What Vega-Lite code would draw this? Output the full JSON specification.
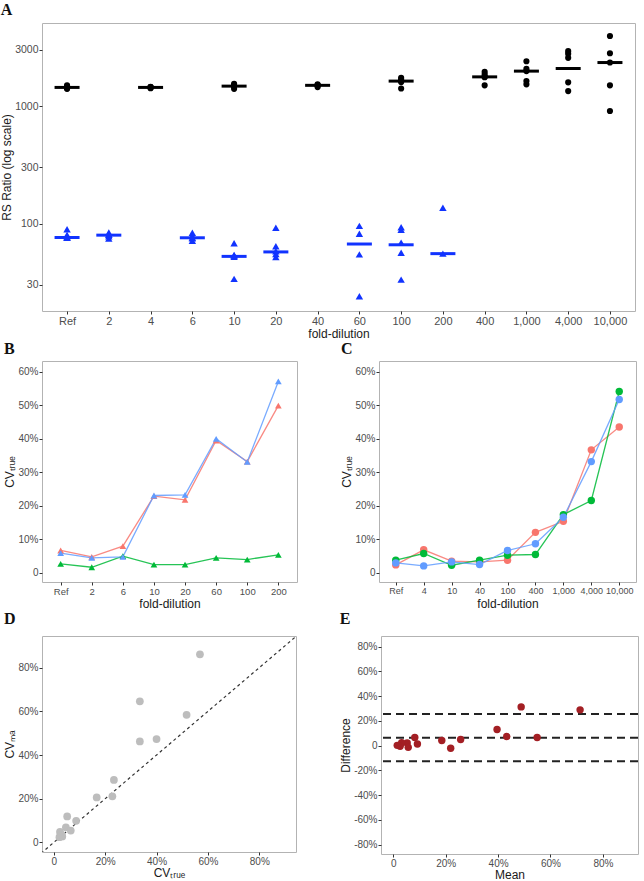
{
 "$schema": "https://vega.github.io/schema/vega-lite/v6.json",
 "background": "white",
 "padding": {"left": 0, "top": 1, "right": 2, "bottom": 0},
 "config": {
  "font": "Liberation Sans",
  "view": {"stroke": "#b3b3b3", "strokeWidth": 1},
  "axis": {"grid": false, "domain": false, "tickColor": "#333333", "tickSize": 3, "labelColor": "#4d4d4d", "labelFontSize": 10, "titleFontSize": 12, "titleFontWeight": "normal", "titleColor": "#1a1a1a", "labelPadding": 1, "titlePadding": 1},
  "title": {"font": "Liberation Serif", "fontSize": 16, "fontWeight": "bold", "anchor": "start", "frame": "bounds", "offset": 5, "color": "#111111"}
 },
 "datasets": {
  "a_pts": [
   {"fd":"Ref","g":"k","v":1500},{"fd":"Ref","g":"k","v":1440},{"fd":"Ref","g":"k","v":1400},{"fd":"Ref","g":"k","v":1420},{"fd":"Ref","g":"k","v":1460},
   {"fd":"4","g":"k","v":1460},{"fd":"4","g":"k","v":1440},{"fd":"4","g":"k","v":1420},{"fd":"4","g":"k","v":1450},{"fd":"4","g":"k","v":1430},
   {"fd":"10","g":"k","v":1545},{"fd":"10","g":"k","v":1480},{"fd":"10","g":"k","v":1470},{"fd":"10","g":"k","v":1400},{"fd":"10","g":"k","v":1500},
   {"fd":"40","g":"k","v":1530},{"fd":"40","g":"k","v":1500},{"fd":"40","g":"k","v":1490},{"fd":"40","g":"k","v":1450},{"fd":"40","g":"k","v":1510},
   {"fd":"100","g":"k","v":1740},{"fd":"100","g":"k","v":1680},{"fd":"100","g":"k","v":1630},{"fd":"100","g":"k","v":1600},{"fd":"100","g":"k","v":1410},
   {"fd":"400","g":"k","v":1950},{"fd":"400","g":"k","v":1855},{"fd":"400","g":"k","v":1771},{"fd":"400","g":"k","v":1760},{"fd":"400","g":"k","v":1500},
   {"fd":"1,000","g":"k","v":2405},{"fd":"1,000","g":"k","v":2070},{"fd":"1,000","g":"k","v":1982},{"fd":"1,000","g":"k","v":1630},{"fd":"1,000","g":"k","v":1530},
   {"fd":"4,000","g":"k","v":2930},{"fd":"4,000","g":"k","v":2780},{"fd":"4,000","g":"k","v":2570},{"fd":"4,000","g":"k","v":1590},{"fd":"4,000","g":"k","v":1340},
   {"fd":"10,000","g":"k","v":3945},{"fd":"10,000","g":"k","v":2812},{"fd":"10,000","g":"k","v":2345},{"fd":"10,000","g":"k","v":1500},{"fd":"10,000","g":"k","v":907},
   {"fd":"Ref","g":"b","v":89.4},{"fd":"Ref","g":"b","v":76},{"fd":"Ref","g":"b","v":75.6},{"fd":"Ref","g":"b","v":78},{"fd":"Ref","g":"b","v":80},
   {"fd":"2","g":"b","v":83.8},{"fd":"2","g":"b","v":80},{"fd":"2","g":"b","v":74.6},{"fd":"2","g":"b","v":78},{"fd":"2","g":"b","v":81},
   {"fd":"6","g":"b","v":83.4},{"fd":"6","g":"b","v":78.6},{"fd":"6","g":"b","v":71.4},{"fd":"6","g":"b","v":76},{"fd":"6","g":"b","v":75},
   {"fd":"10","g":"b","v":68},{"fd":"10","g":"b","v":53.5},{"fd":"10","g":"b","v":52},{"fd":"10","g":"b","v":33.8},{"fd":"10","g":"b","v":54},
   {"fd":"20","g":"b","v":92},{"fd":"20","g":"b","v":64},{"fd":"20","g":"b","v":58},{"fd":"20","g":"b","v":51.8},{"fd":"20","g":"b","v":55},
   {"fd":"60","g":"b","v":95.5},{"fd":"60","g":"b","v":81.7},{"fd":"60","g":"b","v":54.6},{"fd":"60","g":"b","v":24},
   {"fd":"100","g":"b","v":93},{"fd":"100","g":"b","v":88.4},{"fd":"100","g":"b","v":68.7},{"fd":"100","g":"b","v":56.4},{"fd":"100","g":"b","v":33.3},
   {"fd":"200","g":"b","v":136},{"fd":"200","g":"b","v":55.4}
  ],
  "a_med": [
   {"fd":"Ref","g":"k","v":1440},{"fd":"4","g":"k","v":1440},{"fd":"10","g":"k","v":1477},{"fd":"40","g":"k","v":1500},{"fd":"100","g":"k","v":1630},
   {"fd":"400","g":"k","v":1771},{"fd":"1,000","g":"k","v":1982},{"fd":"4,000","g":"k","v":2086},{"fd":"10,000","g":"k","v":2345},
   {"fd":"Ref","g":"b","v":76},{"fd":"2","g":"b","v":79.6},{"fd":"6","g":"b","v":75.6},{"fd":"10","g":"b","v":52.5},{"fd":"20","g":"b","v":57.3},
   {"fd":"60","g":"b","v":66.9},{"fd":"100","g":"b","v":65.9},{"fd":"200","g":"b","v":55.4}
  ],
  "b": [
   {"i":1,"fd":"Ref","s":"r","cv":0.067},{"i":2,"fd":"2","s":"r","cv":0.048},{"i":3,"fd":"6","s":"r","cv":0.080},{"i":4,"fd":"10","s":"r","cv":0.229},{"i":5,"fd":"20","s":"r","cv":0.218},{"i":6,"fd":"60","s":"r","cv":0.395},{"i":7,"fd":"100","s":"r","cv":0.332},{"i":8,"fd":"200","s":"r","cv":0.499},
   {"i":1,"fd":"Ref","s":"g","cv":0.027},{"i":2,"fd":"2","s":"g","cv":0.017},{"i":3,"fd":"6","s":"g","cv":0.050},{"i":4,"fd":"10","s":"g","cv":0.025},{"i":5,"fd":"20","s":"g","cv":0.025},{"i":6,"fd":"60","s":"g","cv":0.045},{"i":7,"fd":"100","s":"g","cv":0.040},{"i":8,"fd":"200","s":"g","cv":0.054},
   {"i":1,"fd":"Ref","s":"b","cv":0.059},{"i":2,"fd":"2","s":"b","cv":0.045},{"i":3,"fd":"6","s":"b","cv":0.048},{"i":4,"fd":"10","s":"b","cv":0.231},{"i":5,"fd":"20","s":"b","cv":0.233},{"i":6,"fd":"60","s":"b","cv":0.400},{"i":7,"fd":"100","s":"b","cv":0.331},{"i":8,"fd":"200","s":"b","cv":0.571}
  ],
  "c": [
   {"i":1,"fd":"Ref","s":"r","cv":0.024},{"i":2,"fd":"4","s":"r","cv":0.069},{"i":3,"fd":"10","s":"r","cv":0.035},{"i":4,"fd":"40","s":"r","cv":0.033},{"i":5,"fd":"100","s":"r","cv":0.038},{"i":6,"fd":"400","s":"r","cv":0.121},{"i":7,"fd":"1,000","s":"r","cv":0.154},{"i":8,"fd":"4,000","s":"r","cv":0.367},{"i":9,"fd":"10,000","s":"r","cv":0.435},
   {"i":1,"fd":"Ref","s":"g","cv":0.038},{"i":2,"fd":"4","s":"g","cv":0.058},{"i":3,"fd":"10","s":"g","cv":0.023},{"i":4,"fd":"40","s":"g","cv":0.038},{"i":5,"fd":"100","s":"g","cv":0.053},{"i":6,"fd":"400","s":"g","cv":0.055},{"i":7,"fd":"1,000","s":"g","cv":0.174},{"i":8,"fd":"4,000","s":"g","cv":0.216},{"i":9,"fd":"10,000","s":"g","cv":0.541},
   {"i":1,"fd":"Ref","s":"b","cv":0.030},{"i":2,"fd":"4","s":"b","cv":0.021},{"i":3,"fd":"10","s":"b","cv":0.033},{"i":4,"fd":"40","s":"b","cv":0.025},{"i":5,"fd":"100","s":"b","cv":0.067},{"i":6,"fd":"400","s":"b","cv":0.087},{"i":7,"fd":"1,000","s":"b","cv":0.166},{"i":8,"fd":"4,000","s":"b","cv":0.332},{"i":9,"fd":"10,000","s":"b","cv":0.517}
  ],
  "d": [
   {"t":0.569,"ma":0.861},{"t":0.335,"ma":0.646},{"t":0.517,"ma":0.584},{"t":0.335,"ma":0.462},{"t":0.400,"ma":0.473},{"t":0.234,"ma":0.286},{"t":0.167,"ma":0.206},{"t":0.228,"ma":0.211},
   {"t":0.052,"ma":0.119},{"t":0.087,"ma":0.099},{"t":0.047,"ma":0.069},{"t":0.024,"ma":0.048},{"t":0.066,"ma":0.054},{"t":0.033,"ma":0.027},{"t":0.022,"ma":0.024},{"t":0.030,"ma":0.035}
  ],
  "diag": [{"t":-0.05,"ma":-0.05,"t2":0.95,"ma2":0.95}],
  "e": [
   {"m":0.488,"d":0.313},{"m":0.713,"d":0.289},{"m":0.396,"d":0.130},{"m":0.433,"d":0.074},{"m":0.549,"d":0.066},{"m":0.257,"d":0.050},{"m":0.185,"d":0.042},{"m":0.219,"d":-0.021},
   {"m":0.082,"d":0.066},{"m":0.092,"d":0.013},{"m":0.053,"d":0.021},{"m":0.057,"d":-0.014},{"m":0.032,"d":0.024},{"m":0.026,"d":-0.006},{"m":0.015,"d":0.002}
  ],
  "ehl": [{"d":0.255},{"d":0.064},{"d":-0.127}]
 },
 "columns": 1,
 "spacing": 0,
 "concat": [
  {
   "title": {"text": "A", "offset": 5},
   "width": 593, "height": 288,
   "encoding": {
    "x": {"field":"fd","type":"nominal","scale":{"type":"point","padding":0.6,"domain":["Ref","2","4","6","10","20","40","60","100","200","400","1,000","4,000","10,000"]},"axis":{"title":"fold-dilution","labelAngle":0,"labelFontSize":11,"titlePadding":2}},
    "y": {"field":"v","type":"quantitative","scale":{"type":"log","domain":[18,5090],"nice":false},"axis":{"values":[30,100,300,1000,3000],"format":"d","title":"RS Ratio (log scale)","labelFontSize":10.5,"titleFontSize":12,"titlePadding":1}},
    "color": {"field":"g","type":"nominal","scale":{"domain":["k","b"],"range":["#000000","#1133ff"]},"legend":null}
   },
   "layer": [
    {"data":{"name":"a_pts"},"mark":{"type":"point","filled":true,"opacity":1},
     "encoding":{"shape":{"field":"g","type":"nominal","scale":{"domain":["k","b"],"range":["circle","triangle-up"]},"legend":null},
                 "size":{"field":"g","type":"nominal","scale":{"domain":["k","b"],"range":[38,55]},"legend":null}}},
    {"data":{"name":"a_med"},"mark":{"type":"tick","thickness":3,"size":25,"opacity":1}}
   ]
  },
  {
   "spacing": 42,
   "resolve": {"scale": {"x":"independent","y":"independent","color":"independent"}},
   "hconcat": [
    {
     "title": {"text": "B", "offset": 4}, "width": 255, "height": 221,
     "data": {"name":"b"},
     "encoding": {
      "x": {"field":"fd","type":"ordinal","scale":{"type":"point","padding":0.6,"domain":["Ref","2","6","10","20","60","100","200"]},"axis":{"title":"fold-dilution","labelAngle":0,"labelFontSize":9.5,"titlePadding":3}},
      "y": {"field":"cv","type":"quantitative","scale":{"domain":[-0.027,0.632],"nice":false,"zero":false},"axis":{"values":[0,0.1,0.2,0.3,0.4,0.5,0.6],"labelExpr":"datum.value == 0 ? '0' : (datum.value < 0 ? '-' : '') + format(abs(datum.value), '.0%')","title":"CVₜᵣᵤₑ"}},
      "color": {"field":"s","type":"nominal","scale":{"domain":["r","g","b"],"range":["#F8766D","#00BA38","#619CFF"]},"legend":null},
      "order": {"field":"i","type":"quantitative"}
     },
     "layer": [
      {"mark":{"type":"line","strokeWidth":1.3,"opacity":0.85}},
      {"mark":{"type":"point","shape":"triangle-up","filled":true,"size":45,"opacity":1}}
     ]
    },
    {
     "title": {"text": "C", "offset": 4}, "width": 257, "height": 221,
     "data": {"name":"c"},
     "encoding": {
      "x": {"field":"fd","type":"ordinal","scale":{"type":"point","padding":0.6,"domain":["Ref","4","10","40","100","400","1,000","4,000","10,000"]},"axis":{"title":"fold-dilution","labelAngle":0,"labelFontSize":9,"titlePadding":3}},
      "y": {"field":"cv","type":"quantitative","scale":{"domain":[-0.027,0.632],"nice":false,"zero":false},"axis":{"values":[0,0.1,0.2,0.3,0.4,0.5,0.6],"labelExpr":"datum.value == 0 ? '0' : (datum.value < 0 ? '-' : '') + format(abs(datum.value), '.0%')","title":"CVₜᵣᵤₑ"}},
      "color": {"field":"s","type":"nominal","scale":{"domain":["r","g","b"],"range":["#F8766D","#00BA38","#619CFF"]},"legend":null},
      "order": {"field":"i","type":"quantitative"}
     },
     "layer": [
      {"mark":{"type":"line","strokeWidth":1.3,"opacity":0.85}},
      {"mark":{"type":"circle","size":55,"opacity":1}}
     ]
    }
   ]
  },
  {
   "spacing": 42,
   "resolve": {"scale": {"x":"independent","y":"independent"}},
   "hconcat": [
    {
     "title": {"text": "D", "offset": 9}, "width": 254, "height": 216,
     "encoding": {
      "x": {"field":"t","type":"quantitative","scale":{"domain":[-0.046,0.943],"nice":false,"zero":false},"axis":{"values":[0,0.2,0.4,0.6,0.8],"labelExpr":"datum.value == 0 ? '0' : format(datum.value, '.0%')","title":"CVₜᵣᵤₑ","titlePadding":1}},
      "y": {"field":"ma","type":"quantitative","scale":{"domain":[-0.044,0.945],"nice":false,"zero":false},"axis":{"values":[0,0.2,0.4,0.6,0.8],"labelExpr":"datum.value == 0 ? '0' : format(datum.value, '.0%')","title":"CVₘₐ"}}
     },
     "layer": [
      {"data":{"name":"diag"},"mark":{"type":"rule","strokeDash":[3,3],"color":"#333333","strokeWidth":1.2,"clip":true},
       "encoding":{"x2":{"field":"t2"},"y2":{"field":"ma2"}}},
      {"data":{"name":"d"},"mark":{"type":"circle","size":60,"color":"#bdbdbd","opacity":1}}
     ]
    },
    {
     "title": {"text": "E", "offset": 9}, "width": 257, "height": 218,
     "encoding": {
      "y": {"field":"d","type":"quantitative","scale":{"domain":[-0.876,0.886],"nice":false,"zero":false},"axis":{"values":[-0.8,-0.6,-0.4,-0.2,0,0.2,0.4,0.6,0.8],"labelExpr":"datum.value == 0 ? '0' : (datum.value < 0 ? '-' : '') + format(abs(datum.value), '.0%')","title":"Difference"}}
     },
     "layer": [
      {"data":{"name":"ehl"},"mark":{"type":"rule","strokeDash":[8,5],"color":"#222222","strokeWidth":2}},
      {"data":{"name":"e"},"mark":{"type":"circle","size":55,"color":"#a31f24","opacity":1},
       "encoding":{"x":{"field":"m","type":"quantitative","scale":{"domain":[-0.047,0.934],"nice":false,"zero":false},"axis":{"values":[0,0.2,0.4,0.6,0.8],"labelExpr":"datum.value == 0 ? '0' : format(datum.value, '.0%')","title":"Mean","titlePadding":1}}}}
     ]
    }
   ]
  }
 ]
}
